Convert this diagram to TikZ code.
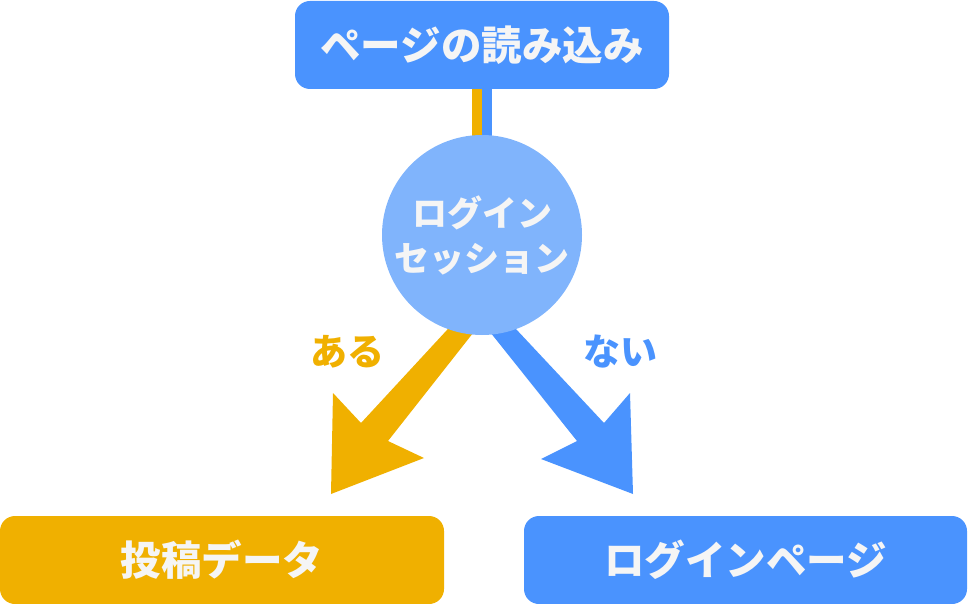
\documentclass[tikz,border=0pt]{standalone}
\usepackage{fontspec}
\newfontfamily\cjk{Noto Sans CJK JP}
\usetikzlibrary{backgrounds}
\definecolor{cblue}{HTML}{4A93FE}
\definecolor{clight}{HTML}{80B4FC}
\definecolor{cyel}{HTML}{F0B000}
\definecolor{ctext}{HTML}{F5F5F5}
\begin{document}
\begin{tikzpicture}[x=1pt,y=-1pt,
  box/.style={rectangle,rounded corners=15pt,inner sep=0pt,minimum height=88pt,
    text=ctext,font=\cjk\bfseries\fontsize{40.5}{44}\selectfont},
  bubble/.style={circle,inner sep=0pt,minimum size=200pt,fill=clight,text=ctext,
    align=center,font=\cjk\bfseries\fontsize{35}{45}\selectfont},
  lbl/.style={font=\cjk\bfseries\fontsize{37}{40}\selectfont,inner sep=0pt}]
\useasboundingbox (0,0) rectangle (968,604);
\node[box,fill=cblue,minimum width=374pt] (top) at (482,45) {ページの読み込み};
\node[bubble] (sess) at (482,235) {ログイン\\セッション};
\node[box,fill=cyel,minimum width=444pt] (post) at (222,560) {投稿データ};
\node[box,fill=cblue,minimum width=443pt] (login) at (745.5,560) {ログインページ};
\node[lbl,text=cyel] (aru) at (347,352) {ある};
\node[lbl,text=cblue] (nai) at (620,352) {ない};
\begin{scope}[on background layer]
\fill[cyel] ([xshift=-10.5pt]top.south) rectangle ([yshift=-30pt]sess.center);
\fill[cblue] (top.south) rectangle ([xshift=10.2pt,yshift=-30pt]sess.center);
\fill[cyel] (474.7,300) -- (361,423) -- (333,393) -- (331,494) -- (424,458) -- (388,441) -- (499,300) -- cycle;
\fill[cblue] (464.5,300) -- (577,441) -- (541,459) -- (633,494) -- (630,393) -- (604,423) -- (488.8,300) -- cycle;
\end{scope}
\end{tikzpicture}
\end{document}
